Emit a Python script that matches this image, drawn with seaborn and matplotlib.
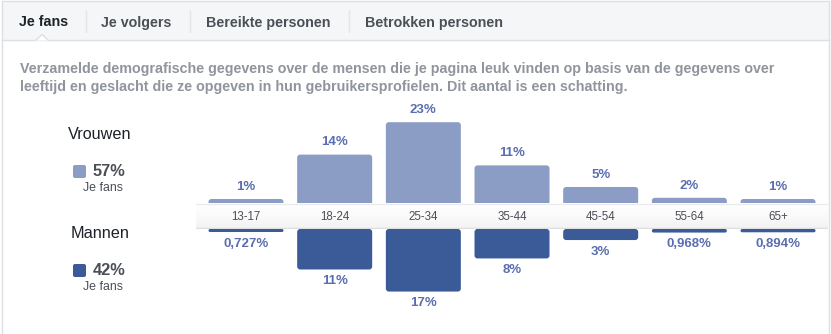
import matplotlib
matplotlib.use("Agg")
import matplotlib.pyplot as plt
from matplotlib.patches import Rectangle, FancyBboxPatch, Polygon
from matplotlib.colors import LinearSegmentedColormap
import matplotlib.transforms as mtransforms
import numpy as np
import pandas as pd
import seaborn as sns

# ---------------- data ----------------
age_groups = ["13-17", "18-24", "25-34", "35-44", "45-54", "55-64", "65+"]
women_pct = [1, 14, 23, 11, 5, 2, 1]
women_labels = ["1%", "14%", "23%", "11%", "5%", "2%", "1%"]
men_pct = [0.727, 11, 17, 8, 3, 0.968, 0.894]
men_labels = ["0,727%", "11%", "17%", "8%", "3%", "0,968%", "0,894%"]
tabs = ["Je fans", "Je volgers", "Bereikte personen", "Betrokken personen"]
description = ["Verzamelde demografische gegevens over de mensen die je pagina leuk vinden op basis van de gegevens over",
               "leeftijd en geslacht die ze opgeven in hun gebruikersprofielen. Dit aantal is een schatting."]
legend_names = ["Vrouwen", "Mannen"]
legend_totals = ["57%", "42%"]
legend_sub = "Je fans"

# ---------------- style ----------------
sns.set_style("white")
plt.rcParams["font.family"] = ["Liberation Sans", "DejaVu Sans"]

C_WOMEN = "#8b9cc5"
C_MEN = "#3a5b98"
C_LABEL = "#5a6eb0"
C_BORDER = "#dddfe2"
C_DARK = "#1d2129"
C_MID = "#4b4f56"
C_GREY = "#90949c"

W, H = 831, 334
fig = plt.figure(figsize=(W / 100, H / 100), dpi=100)
fig.patch.set_facecolor("white")


def frac(x0, y0, x1, y1):
    return [x0 / W, 1 - y1 / H, (x1 - x0) / W, (y1 - y0) / H]


# background / UI axes in pixel coordinates
bg = fig.add_axes([0, 0, 1, 1])
bg.set_xlim(0, W)
bg.set_ylim(H, 0)
bg.axis("off")
bg.set_zorder(0)

# tab bar
bg.add_patch(Rectangle((2, 1), 827, 39, facecolor="#f5f6f7", edgecolor="none"))
bg.plot([2, 829], [1, 1], color=C_BORDER, lw=1)
bg.plot([2, 829], [40, 40], color=C_BORDER, lw=1)
bg.plot([2, 2], [1, H], color=C_BORDER, lw=1)
bg.plot([829, 829], [1, H], color=C_BORDER, lw=1)
# notch under active tab
bg.add_patch(Polygon([[36, 40.6], [42, 34.5], [48, 40.6]], closed=True,
                     facecolor="white", edgecolor="none", zorder=3))
bg.plot([36, 42, 48], [40, 34.5, 40], color=C_BORDER, lw=1, zorder=4)

tab_x = [19, 101, 206, 365]
for i, (t, x) in enumerate(zip(tabs, tab_x)):
    bg.text(x, 26.5, t, fontsize=10.3, fontweight="bold",
            color=C_DARK if i == 0 else C_MID, ha="left", va="baseline")
for x in [86, 189.5, 348.5]:
    bg.plot([x, x], [10, 32], color="#e4e6e9", lw=1)

# description (fit to reference width)
d1 = bg.text(20, 73, description[0], fontsize=10, fontweight="bold",
             color=C_GREY, ha="left", va="baseline")
d2 = bg.text(20, 91, description[1], fontsize=10, fontweight="bold",
             color=C_GREY, ha="left", va="baseline")
fig.canvas.draw()
w1 = d1.get_window_extent().width
fs = 10 * 756 / w1
d1.set_fontsize(fs)
d2.set_fontsize(fs)

# legend block
for name, tot, base, col in zip(legend_names, legend_totals, [139, 238], [C_WOMEN, C_MEN]):
    bg.text(100, base, name, fontsize=11.7, color=C_DARK, ha="center", va="baseline")
    bg.add_patch(FancyBboxPatch((73, base + 26), 13, 13,
                                boxstyle="round,pad=0,rounding_size=2",
                                facecolor=col, edgecolor="none"))
    bg.text(93, base + 37, tot, fontsize=11.8, fontweight="bold", color=C_MID,
            ha="left", va="baseline")
    bg.text(103, base + 52, legend_sub, fontsize=8.9, color=C_MID,
            ha="center", va="baseline")

# ---------------- bars ----------------
STEP = 88.67          # px between category centres
X0 = 246              # px centre of first category
SCALE_TOP = 3.6       # px per percent
SCALE_BOT = 3.68
BASE_TOP = 205
BASE_BOT = 229
MIN_TOP_PX = 6        # minimum drawn height (style), partly hidden under band
MIN_BOT_PX = 3
n = len(age_groups)
ax_left = X0 - STEP / 2
ax_right = X0 + STEP * (n - 0.5)

df_w = pd.DataFrame({"age": age_groups, "pct": women_pct})
df_m = pd.DataFrame({"age": age_groups, "pct": men_pct})

ax_top = fig.add_axes(frac(ax_left, 95, ax_right, BASE_TOP))
ax_bot = fig.add_axes(frac(ax_left, BASE_BOT, ax_right, 322))
bar_w = 75 / STEP

sns.barplot(data=df_w, x="age", y="pct", ax=ax_top, color=C_WOMEN,
            width=bar_w, saturation=1, errorbar=None)
sns.barplot(data=df_m, x="age", y="pct", ax=ax_bot, color=C_MEN,
            width=bar_w, saturation=1, errorbar=None)

ax_top.set_ylim(0, (BASE_TOP - 95) / SCALE_TOP)
ax_bot.set_ylim((322 - BASE_BOT) / SCALE_BOT, 0)

for ax, labels, pad, col, scale, min_px in [
        (ax_top, women_labels, 4.4, C_WOMEN, SCALE_TOP, MIN_TOP_PX),
        (ax_bot, men_labels, 4.2, C_MEN, SCALE_BOT, MIN_BOT_PX)]:
    ax.set_xlim(-0.5, n - 0.5)
    ax.axis("off")
    ax.patch.set_visible(False)
    ax.set_zorder(2)
    for p in ax.containers[0]:
        if p.get_height() * scale < min_px:
            p.set_height(min_px / scale)
    ax.bar_label(ax.containers[0], labels=labels, padding=pad, fontsize=9.5,
                 fontweight="bold", color=C_LABEL)
    # round the bar corners
    m = STEP / scale
    for p in list(ax.patches):
        x, y, w, h = p.get_x(), p.get_y(), p.get_width(), p.get_height()
        h_px = abs(h) * scale
        r_px = min(3.0, h_px / 2)
        p.remove()
        ax.add_patch(FancyBboxPatch((x, y), w, h,
                                    boxstyle=f"round,pad=0,rounding_size={r_px / STEP}",
                                    mutation_aspect=m, facecolor=col,
                                    edgecolor="none"))

# ---------------- label band ----------------
band_l, band_r, band_t, band_b = 196, 828, 203, 229
ax_band = fig.add_axes(frac(band_l, band_t, band_r, band_b))
ax_band.set_zorder(3)
grad = np.linspace(0, 1, 50).reshape(-1, 1)
cmap = LinearSegmentedColormap.from_list("band", ["#ffffff", "#fafafa", "#f2f2f2"])
ax_band.imshow(grad, aspect="auto", cmap=cmap, extent=[0, 1, 1, 0])
ax_band.set_xlim(0, 1)
ax_band.set_ylim(1, 0)
ax_band.axis("off")
ax_band.plot([0, 1], [0.02, 0.02], color="#ebebeb", lw=1)
ax_band.plot([0, 1], [0.98, 0.98], color="#dedede", lw=1)

trans = mtransforms.blended_transform_factory(ax_top.transData, fig.transFigure)
label_y = 1 - 216.5 / H
for i, a in enumerate(age_groups):
    fig.text(i, label_y, a, transform=trans, fontsize=8.3, color=C_MID,
             ha="center", va="center", zorder=5)

fig.savefig("out.png", dpi=100)
